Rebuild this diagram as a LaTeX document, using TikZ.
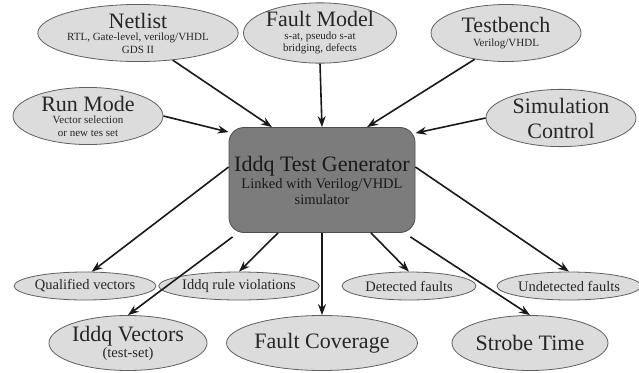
\documentclass[tikz,border=0pt]{standalone}
\usepackage{fontspec}
\setmainfont{Liberation Serif}
\usetikzlibrary{arrows.meta,shapes.geometric}

\definecolor{bubblefill}{RGB}{220,220,220}
\definecolor{bubbleline}{RGB}{95,95,95}
\definecolor{genfill}{RGB}{124,124,124}

\newcommand{\bigtxt}{\fontsize{22}{25}\selectfont}
\newcommand{\midtxt}{\fontsize{14.5}{16}\selectfont}
\newcommand{\tinytxt}{\fontsize{11}{12.5}\selectfont}

\tikzset{
  bubble/.style={ellipse, draw=bubbleline, fill=bubblefill, line width=0.8pt,
    inner sep=0pt, align=center, text=black!85},
  bigbubble/.style={bubble, minimum width=150pt, minimum height=57pt, font=\tinytxt},
  flatbubble/.style={bubble, minimum width=134pt, minimum height=28pt, font=\midtxt},
  genbox/.style={draw=black!70, fill=genfill, line width=0.8pt, rounded corners=15pt,
    minimum width=186pt, minimum height=105pt, align=center, text=black!90, font=\midtxt},
  feed/.style={-{Stealth[length=11pt,width=8pt]}, line width=1.6pt, black!90}
}

\begin{document}
\begin{tikzpicture}[x=1pt, y=-1pt]
  \useasboundingbox (0,0) rectangle (639,372);

  % generator in the middle
  \node[genbox] (gen) at (322,180)
    {{\bigtxt Iddq Test Generator}\\[1pt]Linked with Verilog/VHDL\\simulator};

  % inputs
  \node[bigbubble] (netlist) at (138,33)
    {{\bigtxt Netlist}\\RTL, Gate-level, verilog/VHDL\\GDS II};
  \node[bigbubble] (fmodel) at (320,33)
    {{\bigtxt Fault Model}\\s-at, pseudo s-at\\bridging, defects};
  \node[bigbubble] (tbench) at (506,33)
    {{\bigtxt Testbench}\\[1pt]Verilog/VHDL};
  \node[bigbubble] (runmode) at (88,116)
    {{\bigtxt Run Mode}\\Vector selection\\or new tes set};
  \node[bigbubble, font=\bigtxt] (simctl) at (561,118)
    {Simulation\\Control};

  % outputs
  \node[flatbubble] (qualvec) at (85,286) {Qualified vectors};
  \node[flatbubble] (ruleviol) at (239,286) {Iddq rule violations};
  \node[flatbubble] (detfault) at (409,286) {Detected faults};
  \node[flatbubble] (undetfault) at (569,286) {Undetected faults};
  \node[bigbubble, minimum width=156pt, minimum height=55pt, font=\midtxt] (iddqvec) at (128,343)
    {{\bigtxt Iddq Vectors}\\(test-set)};
  \node[bigbubble, minimum width=156pt, minimum height=55pt] (fcover) at (322,343)
    {\bigtxt Fault Coverage};
  \node[bigbubble, minimum width=156pt, minimum height=55pt] (strobe) at (530,343)
    {\bigtxt Strobe Time};

  % arrows into the generator
  \draw[feed] (netlist.-38) -- ([xshift=-50pt]gen.north);
  \draw[feed] (fmodel.south) -- (gen.north);
  \draw[feed] (tbench.-140) -- ([xshift=45pt]gen.north);
  \draw[feed] (runmode.east) -- ([yshift=-5pt]gen.north west);
  \draw[feed] (simctl.west) -- ([yshift=-6pt]gen.north east);

  % arrows out of the generator
  \draw[feed] ([yshift=13pt]gen.west) -- (qualvec.65);
  \draw[feed] ([xshift=4pt,yshift=-4pt]gen.south west) -- (iddqvec.north);
  \draw[feed] ([xshift=-44pt]gen.south) -- (ruleviol.north);
  \draw[feed] (gen.south) -- (fcover.north);
  \draw[feed] ([xshift=49pt]gen.south) -- (detfault.north);
  \draw[feed] ([xshift=-5pt,yshift=-4pt]gen.south east) -- (strobe.north);
  \draw[feed] ([yshift=13pt]gen.east) -- (undetfault.north);
\end{tikzpicture}
\end{document}
